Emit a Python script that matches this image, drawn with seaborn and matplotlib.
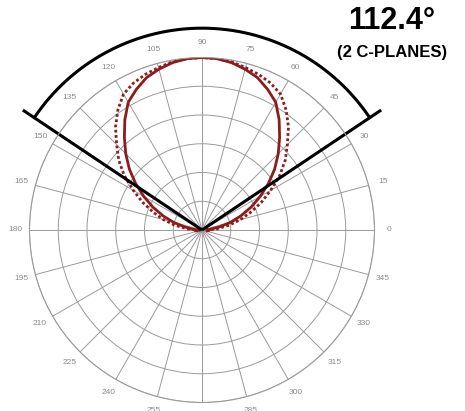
import numpy as np
import pandas as pd
import matplotlib
matplotlib.use("Agg")
import matplotlib.pyplot as plt
import seaborn as sns

# data: off-axis angle (deg) -> relative intensity, mirrored about 90 deg
off_axis = [0, 5, 10, 15, 20, 25, 30, 35, 40, 45, 50,
            55, 60, 65, 70, 75, 80, 85, 90, 95, 100]
plane_a = [1.00, 0.997, 0.985, 0.965, 0.94, 0.90, 0.855, 0.78, 0.70, 0.625, 0.55,
           0.47, 0.39, 0.315, 0.24, 0.17, 0.10, 0.05, 0.03, 0.04, 0.03]
plane_b = [1.00, 0.997, 0.99, 0.975, 0.96, 0.94, 0.91, 0.85, 0.78, 0.70, 0.63,
           0.55, 0.46, 0.38, 0.30, 0.23, 0.16, 0.09, 0.03, 0.02, 0.01]
beam_angle = 112.4
title_lines = ["112.4°", "(2 C-PLANES)"]
theta_ticks = list(range(0, 360, 15))

RED = "#8e1b1b"
GRID = "#9a9a9a"
LABEL = "#8c8c8c"


def mirror(vals):
    ang = [90 + a for a in off_axis[::-1]] + [90 - a for a in off_axis[1:]]
    r = list(vals[::-1]) + list(vals[1:])
    return pd.DataFrame({"theta": np.deg2rad(ang), "r": r})


sns.set_style("white")
plt.rcParams["font.family"] = ["Liberation Sans", "DejaVu Sans"]

fig = plt.figure(figsize=(4.65, 4.11), dpi=100)
ax = fig.add_axes([0.0634, 0.0207, 0.742, 0.8394], projection="polar")

ax.set_ylim(0, 1)
ax.set_yticks(np.linspace(1 / 6, 1, 6))
ax.set_yticklabels([])
ax.set_thetagrids(theta_ticks, [str(t) for t in theta_ticks],
                  fontsize=6, color=LABEL)
ax.tick_params(axis="x", pad=0)
ax.grid(True, color=GRID, linewidth=0.7)
ax.spines["polar"].set_color(GRID)
ax.spines["polar"].set_linewidth(0.8)

sns.lineplot(data=mirror(plane_b), x="theta", y="r", sort=False, ax=ax,
             color=RED, linewidth=2.0, linestyle=(0, (1, 0.9)))
sns.lineplot(data=mirror(plane_a), x="theta", y="r", sort=False, ax=ax,
             color=RED, linewidth=2.0)
ax.set_xlabel("")
ax.set_ylabel("")

# beam angle wedge
half = beam_angle / 2
for a in (90 - half, 90 + half):
    ax.plot([0, np.deg2rad(a)], [0, 1.25], color="black", linewidth=2.2,
            clip_on=False, solid_capstyle="butt")
arc = np.deg2rad(np.linspace(90 - half, 90 + half, 200))
ax.plot(arc, np.full_like(arc, 1.17), color="black", linewidth=2.2, clip_on=False)

fig.text(392 / 465, 1 - 21 / 411, title_lines[0], ha="center", va="center",
         fontsize=22, fontweight="bold", color="black")
fig.text(392 / 465, 1 - 52 / 411, title_lines[1], ha="center", va="center",
         fontsize=12, fontweight="bold", color="black")

fig.savefig("out.png", dpi=100)
